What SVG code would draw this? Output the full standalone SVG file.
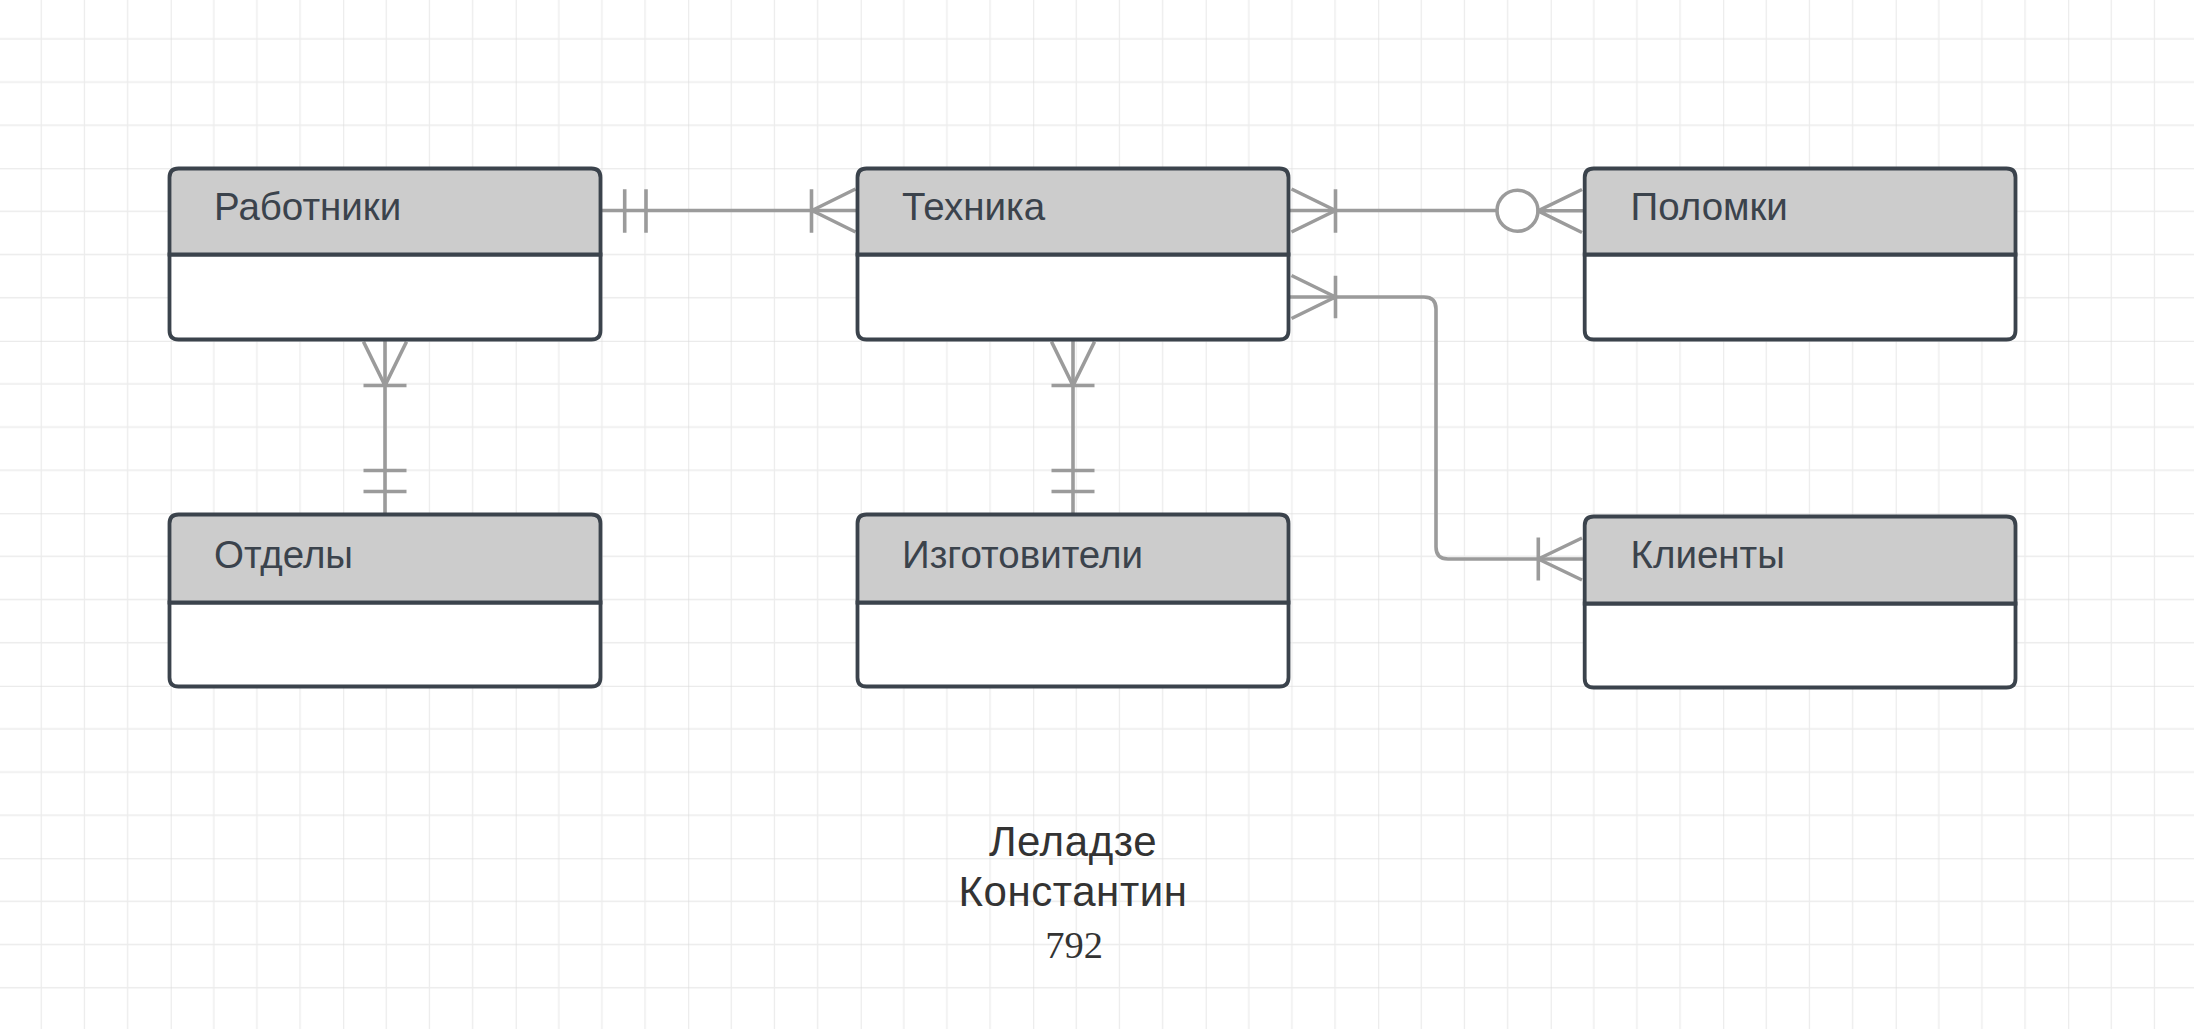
<svg xmlns="http://www.w3.org/2000/svg" width="2194" height="1029" viewBox="0 0 2194 1029">
<defs>
<pattern id="grid" patternUnits="userSpaceOnUse" x="170.7" y="168.3" width="172.5" height="172.5">
<path d="M43.125,0V172.5M86.25,0V172.5M129.375,0V172.5M0,43.125H172.5M0,86.25H172.5M0,129.375H172.5" stroke="#ececec" stroke-width="1.3" fill="none"/>
<path d="M0,0V172.5M0,0H172.5" stroke="#dedede" stroke-width="1.4" fill="none"/>
</pattern>
</defs>
<style>
.hdr{fill:#cccccc;stroke:#3b434c;stroke-width:3.8}
.body{fill:#ffffff;stroke:#3b434c;stroke-width:3.8}
.ttl{font-family:"Liberation Sans",Arial,sans-serif;font-size:38.5px;fill:#3b434c}
.cn{fill:none;stroke:#9b9b9b;stroke-width:3.6;stroke-linecap:butt;stroke-linejoin:round}
.sig{font-family:"Liberation Sans",Arial,sans-serif;font-size:42px;letter-spacing:0.6px;fill:#333333;text-anchor:middle}
.num{font-family:"Liberation Serif","Times New Roman",serif;font-size:38.5px;fill:#333333;text-anchor:middle}
</style>
<rect width="2194" height="1029" fill="#ffffff"/>
<rect width="2194" height="1029" fill="url(#grid)"/>

<g id="connectors">
<!-- Работники - Техника -->
<path class="cn" d="M600.5,210.5H857.5"/>
<path class="cn" d="M624.7,189.3V232.7M646,189.3V232.7"/>
<path class="cn" d="M811.5,189.3V232.7M855.5,189L812,210.5L855.5,232"/>
<!-- Техника - Поломки -->
<path class="cn" d="M1288.5,210.5H1497"/>
<path class="cn" d="M1291.5,189L1335.5,210.5L1291.5,232M1335.5,189.3V232.7"/>
<circle class="cn" cx="1517.5" cy="210.8" r="20.5" style="fill:#ffffff"/>
<path class="cn" d="M1538,210.8H1584.7M1582,189.5L1538,210.8L1582,232.5"/>
<!-- Техника - Клиенты -->
<path class="cn" d="M1288.5,297H1424Q1436,297 1436,309V547Q1436,559 1448,559H1584.7"/>
<path class="cn" d="M1291.5,275.5L1335.5,297L1291.5,318.5M1335.5,275.7V318.3"/>
<path class="cn" d="M1538.3,537.5V580.5M1582,538L1538.3,559L1582,580"/>
<!-- Работники - Отделы -->
<path class="cn" d="M385,339.5V514.5"/>
<path class="cn" d="M363.5,341.7L385,385.5L406.5,341.7M363.5,385.5H406.5"/>
<path class="cn" d="M363.5,470.5H406.5M363.5,491.5H406.5"/>
<!-- Техника - Изготовители -->
<path class="cn" d="M1073,339.5V514.5"/>
<path class="cn" d="M1051.5,341.7L1073,385.5L1094.5,341.7M1051.5,385.5H1094.5"/>
<path class="cn" d="M1051.5,470.5H1094.5M1051.5,491.5H1094.5"/>
</g>

<g id="rabotniki">
<path class="body" d="M169.5,254.5H600.5V330.5Q600.5,339.5 591.5,339.5H178.5Q169.5,339.5 169.5,330.5Z"/>
<path class="hdr" d="M169.5,254.5V177.5Q169.5,168.5 178.5,168.5H591.5Q600.5,168.5 600.5,177.5V254.5Z"/>
<text class="ttl" x="214" y="220">Работники</text>
</g>
<g id="tehnika">
<path class="body" d="M857.5,254.5H1288.5V330.5Q1288.5,339.5 1279.5,339.5H866.5Q857.5,339.5 857.5,330.5Z"/>
<path class="hdr" d="M857.5,254.5V177.5Q857.5,168.5 866.5,168.5H1279.5Q1288.5,168.5 1288.5,177.5V254.5Z"/>
<text class="ttl" x="902" y="220">Техника</text>
</g>
<g id="polomki">
<path class="body" d="M1584.7,254.5H2015.5V330.5Q2015.5,339.5 2006.5,339.5H1593.7Q1584.7,339.5 1584.7,330.5Z"/>
<path class="hdr" d="M1584.7,254.5V177.5Q1584.7,168.5 1593.7,168.5H2006.5Q2015.5,168.5 2015.5,177.5V254.5Z"/>
<text class="ttl" x="1630.5" y="220">Поломки</text>
</g>
<g id="otdely">
<path class="body" d="M169.5,602.5H600.5V677.5Q600.5,686.5 591.5,686.5H178.5Q169.5,686.5 169.5,677.5Z"/>
<path class="hdr" d="M169.5,602.5V523.5Q169.5,514.5 178.5,514.5H591.5Q600.5,514.5 600.5,523.5V602.5Z"/>
<text class="ttl" x="214" y="567.5">Отделы</text>
</g>
<g id="izgotoviteli">
<path class="body" d="M857.5,602.5H1288.5V677.5Q1288.5,686.5 1279.5,686.5H866.5Q857.5,686.5 857.5,677.5Z"/>
<path class="hdr" d="M857.5,602.5V523.5Q857.5,514.5 866.5,514.5H1279.5Q1288.5,514.5 1288.5,523.5V602.5Z"/>
<text class="ttl" x="902" y="567.5">Изготовители</text>
</g>
<g id="klienty">
<path class="body" d="M1584.7,603.5H2015.5V678.5Q2015.5,687.5 2006.5,687.5H1593.7Q1584.7,687.5 1584.7,678.5Z"/>
<path class="hdr" d="M1584.7,603.5V525.5Q1584.7,516.5 1593.7,516.5H2006.5Q2015.5,516.5 2015.5,525.5V603.5Z"/>
<text class="ttl" x="1630.5" y="568">Клиенты</text>
</g>
<g id="signature">
<text class="sig" x="1073" y="856">Леладзе</text>
<text class="sig" x="1073" y="905.7">Константин</text>
<text class="num" x="1074" y="957.7">792</text>
</g>
</svg>
